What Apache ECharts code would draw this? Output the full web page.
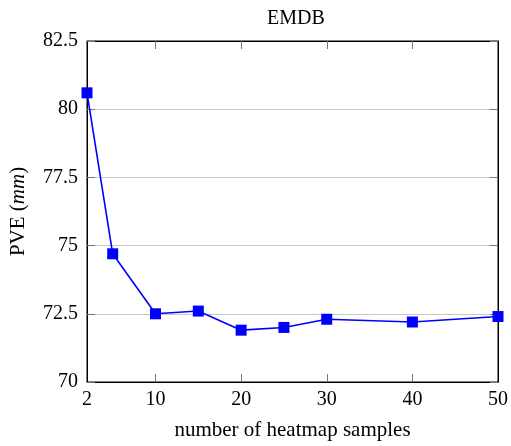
<!DOCTYPE html>
<html>
<head>
<meta charset="utf-8">
<script src="https://cdn.jsdelivr.net/npm/echarts@6/dist/echarts.min.js"></script>
<style>
  html, body { margin: 0; padding: 0; background: #fff; }
  #chart { width: 511px; height: 446px; }
</style>
</head>
<body>
<div id="chart"></div>
<script>
// heatmap sample counts and PVE
const samples = [2, 5, 10, 15, 20, 25, 30, 40, 50];
const pve = [80.6, 74.7, 72.5, 72.6, 71.9, 72.0, 72.3, 72.2, 72.4];
const xTickLabels = [2, 10, 20, 30, 40, 50];
const xInnerTicks = [10, 20, 30, 40];

const font = 'Liberation Serif';

const chart = echarts.init(document.getElementById('chart'));

// inward ticks, pgfplots style, on all four sides
function sideTicks(extra) {
    return Object.assign({
        show: true,
        inside: true,
        length: 8,
        lineStyle: { color: '#777', width: 1 }
    }, extra || {});
}

chart.setOption({
    animation: false,
    title: {
        text: 'EMDB',
        left: 262,
        top: 4,
        textStyle: { fontFamily: font, fontWeight: 'normal', fontSize: 20, color: '#000' }
    },
    grid: {
        left: 85,
        right: 11,
        top: 41,
        bottom: 61,
        show: true,
        borderColor: '#000',
        borderWidth: 1
    },
    xAxis: [
        {
            type: 'value',
            min: 2,
            max: 50,
            name: 'number of heatmap samples',
            nameLocation: 'middle',
            nameGap: 38,
            nameTextStyle: { fontFamily: font, fontSize: 21, color: '#000' },
            axisLine: { show: true, onZero: false, lineStyle: { color: '#000' } },
            axisTick: sideTicks({ customValues: xInnerTicks }),
            axisLabel: {
                customValues: xTickLabels,
                margin: 8,
                fontFamily: font,
                fontSize: 20,
                color: '#000'
            },
            splitLine: { show: false }
        },
        {
            type: 'value',
            position: 'top',
            min: 2,
            max: 50,
            axisLine: { show: true, onZero: false, lineStyle: { color: '#000' } },
            axisTick: sideTicks({ customValues: xInnerTicks }),
            axisLabel: { show: false, customValues: xTickLabels },
            splitLine: { show: false }
        }
    ],
    yAxis: [
        {
            type: 'value',
            min: 70,
            max: 82.5,
            interval: 2.5,
            name: '{a|PVE (}{b|mm}{a|)}',
            nameLocation: 'middle',
            nameRotate: 90,
            nameGap: 58,
            nameTextStyle: {
                rich: {
                    a: { fontFamily: font, fontSize: 21, color: '#000' },
                    b: { fontFamily: font, fontSize: 21, fontStyle: 'italic', color: '#000' }
                }
            },
            axisLine: { show: true, onZero: false, lineStyle: { color: '#000' } },
            axisTick: sideTicks(),
            axisLabel: {
                margin: 9,
                fontFamily: font,
                fontSize: 20,
                color: '#000'
            },
            splitLine: { show: true, lineStyle: { color: '#c8c8c8', width: 1 } }
        },
        {
            type: 'value',
            position: 'right',
            min: 70,
            max: 82.5,
            interval: 2.5,
            axisLine: { show: true, onZero: false, lineStyle: { color: '#000' } },
            axisTick: sideTicks(),
            axisLabel: { show: false },
            splitLine: { show: false }
        }
    ],
    series: [
        {
            type: 'line',
            xAxisIndex: 0,
            yAxisIndex: 0,
            data: samples.map((s, i) => [s, pve[i]]),
            symbol: 'rect',
            symbolSize: 11,
            itemStyle: { color: '#0000ff' },
            lineStyle: { color: '#0000ff', width: 1.6 },
            z: 5
        }
    ]
});
</script>
</body>
</html>
